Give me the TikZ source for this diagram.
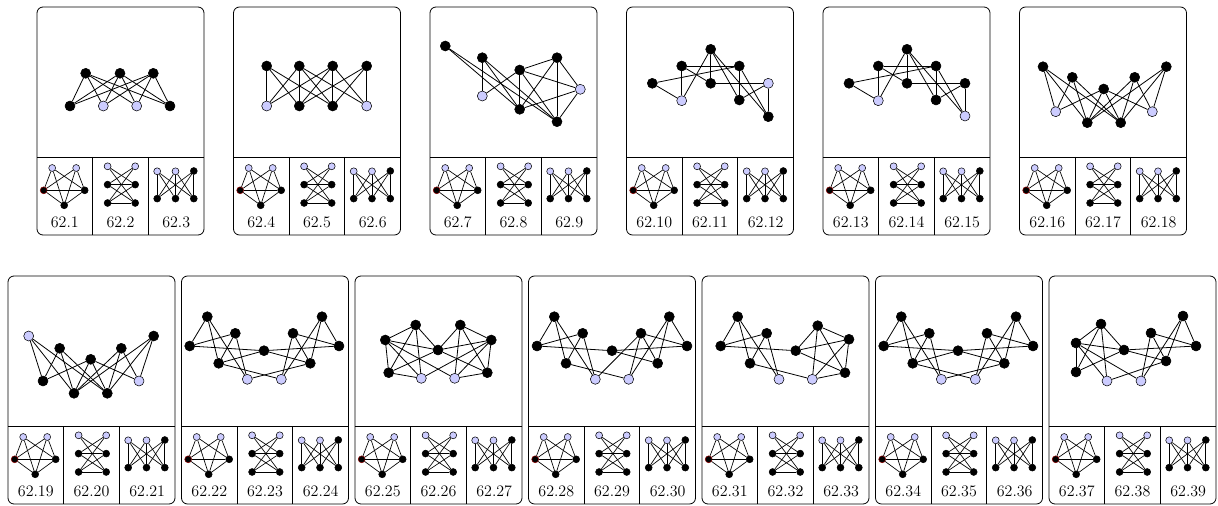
\documentclass[tikz,border=0pt]{standalone}
\usepackage{tikz}
\tikzset{
 bn/.style={circle,draw=black,fill=black,inner sep=0pt,minimum size=7.5pt,line width=0.4pt},
 bl/.style={bn,fill=blue!20},
 sn/.style={circle,draw=black,fill=black,inner sep=0pt,minimum size=5.2pt,line width=0.4pt},
 sl/.style={sn,fill=blue!20},
 snr/.style={sn,draw=red!55!black},
 edge/.style={line width=0.6pt},
 sedge/.style={line width=0.5pt},
 frame/.style={line width=0.6pt,rounded corners=4.5pt},
 divider/.style={line width=0.5pt},
 lab/.style={font=\fontsize{12}{14}\selectfont,inner sep=0pt}
}
\newcommand\gedges[2]{\foreach \u/\v in {#2}{\draw[edge] (#1\u) -- (#1\v);}}
% #1 left, #2 top, #3 prefix, #4 first number
\newcommand\mycard[4]{%
 \draw[frame] (#1,#2) rectangle ++(167,228);
 \draw[divider] (#1,#2+150) -- ++(167,0);
 \draw[divider] (#1+55.7,#2+150) -- ++(0,78);
 \draw[divider] (#1+111.3,#2+150) -- ++(0,78);
 % small graph 1
 \node[sl] (#3a1) at (#1+27.2-12,#2+150+11) {};
 \node[sl] (#3a2) at (#1+27.2+12,#2+150+11) {};
 \node[snr] (#3a3) at (#1+27.2-20.5,#2+150+33.3) {};
 \node[sn] (#3a4) at (#1+27.2+20.5,#2+150+33.3) {};
 \node[sn] (#3a5) at (#1+27.2,#2+150+48.3) {};
 \foreach \u/\v in {a1/a3,a1/a4,a1/a5,a2/a3,a2/a4,a2/a5,a3/a4,a3/a5,a4/a5}{\draw[sedge] (#3\u) -- (#3\v);}
 % small graph 2
 \node[sl] (#3b1) at (#1+84.4-13.8,#2+150+9.3) {};
 \node[sl] (#3b2) at (#1+84.4+13.8,#2+150+9.3) {};
 \node[sn] (#3b3) at (#1+84.4-13.8,#2+150+27.6) {};
 \node[sn] (#3b4) at (#1+84.4+13.8,#2+150+27.6) {};
 \node[sn] (#3b5) at (#1+84.4-13.8,#2+150+46) {};
 \node[sn] (#3b6) at (#1+84.4+13.8,#2+150+46) {};
 \foreach \u/\v in {b1/b4,b1/b6,b2/b3,b2/b5,b3/b4,b3/b6,b4/b5,b5/b6}{\draw[sedge] (#3\u) -- (#3\v);}
 % small graph 3
 \node[sl] (#3c1) at (#1+138.5-18.3,#2+150+14.3) {};
 \node[sl] (#3c2) at (#1+138.5,#2+150+14.3) {};
 \node[sn] (#3c3) at (#1+138.5+18.3,#2+150+14) {};
 \node[sn] (#3c4) at (#1+138.5-18.3,#2+150+41.6) {};
 \node[sn] (#3c5) at (#1+138.5,#2+150+41.6) {};
 \node[sn] (#3c6) at (#1+138.5+18.3,#2+150+41.6) {};
 \foreach \u in {c1,c2,c3}{\foreach \v in {c4,c5,c6}{\draw[sedge] (#3\u) -- (#3\v);}}
 % labels
 \node[lab] (#3l1) at (#1+27.8,#2+150+65) {62.#4};
 \node[lab] (#3l2) at (#1+83.5,#2+150+65) {62.\the\numexpr#4+1\relax};
 \node[lab] (#3l3) at (#1+139.2,#2+150+65) {62.\the\numexpr#4+2\relax};
}
\begin{document}
\begin{tikzpicture}[x=0.75pt,y=-0.75pt]
\useasboundingbox (0,0) rectangle (1218,506);
% ---------- cards ----------
\mycard{37}{7}{s1}{1}
\mycard{233.5}{7}{s2}{4}
\mycard{430}{7}{s3}{7}
\mycard{626.5}{7}{s4}{10}
\mycard{823}{7}{s5}{13}
\mycard{1019.5}{7}{s6}{16}
\mycard{8}{276}{s7}{19}
\mycard{181.5}{276}{s8}{22}
\mycard{355}{276}{s9}{25}
\mycard{528.5}{276}{s10}{28}
\mycard{702}{276}{s11}{31}
\mycard{875.5}{276}{s12}{34}
\mycard{1049}{276}{s13}{37}
% ---------- card 1 ----------
\node[bn] (g1T1) at (85.7,73.3) {};
\node[bn] (g1T2) at (120,73.3) {};
\node[bn] (g1T3) at (153.3,73.3) {};
\node[bn] (g1B1) at (70,106) {};
\node[bl] (g1L1) at (103.3,106) {};
\node[bl] (g1L2) at (136.7,106) {};
\node[bn] (g1B4) at (170,106) {};
\gedges{g1}{T1/B1,T1/L1,T1/L2,T1/B4,T2/B1,T2/L1,T2/L2,T2/B4,T3/B1,T3/L1,T3/L2,T3/B4}
% ---------- card 2 ----------
\node[bn] (g2T1) at (266.7,66) {};
\node[bn] (g2T2) at (299.3,66) {};
\node[bn] (g2T3) at (332.7,66) {};
\node[bn] (g2T4) at (366.7,66) {};
\node[bl] (g2L1) at (266.7,106) {};
\node[bn] (g2B2) at (299.3,106) {};
\node[bn] (g2B3) at (332.7,106) {};
\node[bl] (g2L4) at (366.7,106) {};
\gedges{g2}{T1/L1,T1/B2,T1/B3,T2/L1,T2/B2,T2/B3,T2/L4,T3/L1,T3/B2,T3/B3,T3/L4,T4/L4,T4/B2,T4/B3}
% ---------- card 3 ----------
\node[bn] (g3A) at (445.3,46) {};
\node[bn] (g3B) at (482.3,57.7) {};
\node[bl] (g3C) at (482.3,96) {};
\node[bn] (g3D) at (519.7,70) {};
\node[bn] (g3E) at (519.7,109.3) {};
\node[bn] (g3F) at (557,57.7) {};
\node[bl] (g3G) at (580.3,89.3) {};
\node[bn] (g3H) at (557,121.7) {};
\gedges{g3}{A/E,A/H,B/C,B/E,B/H,C/D,D/E,D/F,D/G,D/H,E/F,F/G,F/H,G/H,E/G}
% ---------- card 4 ----------
\node[bn] (g4P) at (710.7,49.3) {};
\node[bn] (g4B1) at (681.7,66) {};
\node[bn] (g4B2) at (739.3,66) {};
\node[bn] (g4A) at (652.3,83.3) {};
\node[bn] (g4C) at (710.7,83.3) {};
\node[bl] (g4L) at (768.3,83.3) {};
\node[bl] (g4D) at (681.7,100.7) {};
\node[bn] (g4E) at (739.3,100) {};
\node[bn] (g4F) at (768.3,116.7) {};
\gedges{g4}{A/B2,A/D,B1/B2,B1/C,B1/D,P/D,P/C,P/E,P/F,B2/E,B2/F,E/L,L/F,C/L}
% ---------- card 5 ----------
\node[bn] (g5P) at (907,49.3) {};
\node[bn] (g5B1) at (878.3,66) {};
\node[bn] (g5B2) at (936,66) {};
\node[bn] (g5A) at (849,83.3) {};
\node[bn] (g5C) at (907,83.3) {};
\node[bn] (g5L) at (965,83.3) {};
\node[bl] (g5D) at (878.3,100.7) {};
\node[bn] (g5E) at (936,100) {};
\node[bl] (g5F) at (965,116) {};
\gedges{g5}{A/B2,A/D,B1/B2,B1/C,B1/D,P/D,P/C,P/E,P/F,B2/E,B2/F,E/L,L/F,C/L}
% ---------- card 6 ----------
\node[bn] (g6A) at (1043,66.7) {};
\node[bn] (g6B) at (1072.3,77.3) {};
\node[bn] (g6C) at (1103.7,89) {};
\node[bn] (g6D) at (1134.7,77.3) {};
\node[bn] (g6E) at (1166.3,66.7) {};
\node[bl] (g6F) at (1055.7,111.7) {};
\node[bl] (g6G) at (1152.3,111.7) {};
\node[bn] (g6H) at (1087.3,122.7) {};
\node[bn] (g6I) at (1120.7,122.7) {};
\gedges{g6}{A/F,A/H,A/I,B/F,B/H,B/I,C/F,C/G,C/H,C/I,D/G,D/H,D/I,E/G,E/H,E/I}
% ---------- card 7 ----------
\node[bl] (g7A) at (28.7,336) {};
\node[bn] (g7B) at (59.7,348.3) {};
\node[bn] (g7C) at (90.7,359.3) {};
\node[bn] (g7D) at (121.3,348.3) {};
\node[bn] (g7E) at (153.7,336) {};
\node[bn] (g7F) at (43,381) {};
\node[bl] (g7G) at (139,381) {};
\node[bn] (g7H) at (74,393.3) {};
\node[bn] (g7I) at (107.3,393.3) {};
\gedges{g7}{A/F,A/H,A/I,B/F,B/H,B/I,C/F,C/G,C/H,C/I,D/G,D/H,D/I,E/G,E/H,E/I}
% ---------- card 8 ----------
\node[bn] (g8A) at (207.3,316.7) {};
\node[bn] (g8B) at (189.7,346) {};
\node[bn] (g8C) at (235.3,333.3) {};
\node[bn] (g8D) at (218.7,363.3) {};
\node[bn] (g8E) at (264,350.7) {};
\node[bl] (g8F) at (247.3,379.3) {};
\node[bl] (g8G) at (281.3,379.3) {};
\node[bn] (g8H) at (293,333.3) {};
\node[bn] (g8I) at (322,316.7) {};
\node[bn] (g8J) at (339,346) {};
\node[bn] (g8K) at (310.3,363.3) {};
\gedges{g8}{A/B,A/D,A/F,B/C,B/E,C/D,C/F,D/E,D/G,I/J,I/K,I/G,J/H,J/E,H/K,H/G,K/E,K/F}
% ---------- card 9 ----------
\node[bn] (g9A) at (385.3,340) {};
\node[bn] (g9B) at (415.7,325) {};
\node[bn] (g9C) at (388.7,372.7) {};
\node[bl] (g9D) at (421.3,378.3) {};
\node[bn] (g9E) at (438,350) {};
\node[bn] (g9F) at (460.3,325) {};
\node[bn] (g9G) at (491.3,340) {};
\node[bl] (g9H) at (454.7,378.3) {};
\node[bn] (g9I) at (487.3,372.7) {};
\gedges{g9}{A/B,A/C,A/D,A/E,A/H,B/C,B/D,B/E,C/E,C/D,G/F,G/I,G/H,G/E,G/D,F/I,F/H,F/E,I/E,I/H}
% ---------- card 10 ----------
\node[bn] (g10A) at (554.3,316.7) {};
\node[bn] (g10B) at (537,346) {};
\node[bn] (g10C) at (582.7,333.3) {};
\node[bn] (g10D) at (566,363.3) {};
\node[bn] (g10E) at (612,350.7) {};
\node[bl] (g10F) at (595.3,379.3) {};
\node[bl] (g10G) at (628.7,379.3) {};
\node[bn] (g10H) at (641,333.3) {};
\node[bn] (g10I) at (669.3,316.7) {};
\node[bn] (g10J) at (687,346) {};
\node[bn] (g10K) at (657.7,363.3) {};
\gedges{g10}{A/B,A/D,A/F,B/C,B/E,C/D,C/F,D/G,I/J,I/K,I/G,J/H,J/E,H/K,H/G,K/E,F/H}
% ---------- card 11 ----------
\node[bn] (g11A) at (737.7,316.7) {};
\node[bn] (g11B) at (720.7,346) {};
\node[bn] (g11C) at (766.7,333.3) {};
\node[bn] (g11D) at (750,363.3) {};
\node[bn] (g11E) at (795.7,350.7) {};
\node[bl] (g11F) at (779,379.3) {};
\node[bl] (g11G) at (812.3,379.3) {};
\node[bn] (g11H) at (817.7,325.7) {};
\node[bn] (g11I) at (849,339.3) {};
\node[bn] (g11J) at (845,372.7) {};
\gedges{g11}{A/B,A/D,A/F,B/C,B/E,C/D,C/F,D/G,E/H,E/I,E/J,H/I,H/G,H/J,I/G,I/J,G/J}
% ---------- card 12 ----------
\node[bn] (g12A) at (901.3,316.7) {};
\node[bn] (g12B) at (883.7,346) {};
\node[bn] (g12C) at (929.3,333.3) {};
\node[bn] (g12D) at (912.7,363.3) {};
\node[bn] (g12E) at (958,350.7) {};
\node[bl] (g12F) at (941.3,379.3) {};
\node[bl] (g12G) at (975.3,379.3) {};
\node[bn] (g12H) at (987,333.3) {};
\node[bn] (g12I) at (1016,316.7) {};
\node[bn] (g12J) at (1033,346) {};
\node[bn] (g12K) at (1004.3,363.3) {};
\gedges{g12}{A/B,A/D,A/F,B/C,B/E,C/D,C/F,D/E,D/G,I/J,I/K,I/G,J/H,J/E,H/K,H/G,K/E,K/F}
% ---------- card 13 ----------
\node[bn] (g13A) at (1076,343) {};
\node[bn] (g13B) at (1101,324) {};
\node[bn] (g13C) at (1076,372) {};
\node[bl] (g13D) at (1107,381) {};
\node[bn] (g13E) at (1124,350) {};
\node[bl] (g13G) at (1141,381) {};
\node[bn] (g13H) at (1151,333) {};
\node[bn] (g13I) at (1183,316) {};
\node[bn] (g13J) at (1196,346) {};
\node[bn] (g13K) at (1166,361) {};
\gedges{g13}{A/B,A/C,A/D,A/E,B/C,B/D,B/E,C/E,I/J,I/K,I/G,J/H,J/E,H/K,H/G,K/E,K/D,A/G}
\end{tikzpicture}
\end{document}
